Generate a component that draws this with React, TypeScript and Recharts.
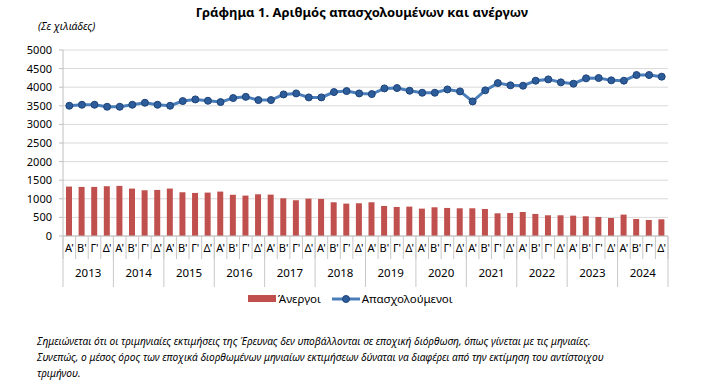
import { ComposedChart, Bar, Line, XAxis, YAxis, CartesianGrid } from 'recharts'

const years = ['2013', '2014', '2015', '2016', '2017', '2018', '2019', '2020', '2021', '2022', '2023', '2024']
const quarters = ["Α'", "Β'", "Γ'", "Δ'"]

// Άνεργοι, thousands, per quarter
const unemployed = [
  1329, 1320, 1320, 1338,
  1347, 1275, 1230, 1239,
  1275, 1176, 1158, 1167,
  1194, 1108, 1086, 1122,
  1113, 1014, 961, 1005,
  996, 907, 871, 880,
  907, 808, 781, 790,
  736, 772, 754, 745,
  745, 727, 610, 619,
  646, 593, 557, 557,
  548, 530, 512, 485,
  575, 458, 431, 449,
]

// Απασχολούμενοι, thousands, per quarter
const employed = [
  3501, 3528, 3528, 3474,
  3474, 3528, 3582, 3528,
  3501, 3627, 3672, 3636,
  3600, 3708, 3740, 3654,
  3654, 3806, 3833, 3726,
  3726, 3869, 3896, 3833,
  3815, 3968, 3977, 3905,
  3851, 3851, 3940, 3887,
  3618, 3915, 4110, 4050,
  4040, 4175, 4210, 4130,
  4094, 4238, 4247, 4184,
  4175, 4327, 4327, 4283,
]

const yTicks = [0, 500, 1000, 1500, 2000, 2500, 3000, 3500, 4000, 4500, 5000]

const data = unemployed.map((u, i) => ({
  key: i,
  q: quarters[i % 4],
  year: years[Math.floor(i / 4)],
  unemployed: u,
  employed: employed[i],
}))

const FONT = '"Noto Sans", "Open Sans", sans-serif'
const SEP = '#c8c8c8'

// eslint-disable-next-line @typescript-eslint/no-explicit-any
function QuarterTick({ x, y, payload }: any) {
  const half = payload.offset ?? 6.3
  return (
    <g>
      <line x1={x - half} x2={x - half} y1={y} y2={y + 23} stroke={SEP} />
      {payload.index === data.length - 1 && (
        <line x1={x + half} x2={x + half} y1={y} y2={y + 23} stroke={SEP} />
      )}
      <text x={x} y={y + 16} textAnchor="middle" fontSize={11} fontFamily={FONT} fill="#000">
        {data[payload.index]?.q}
      </text>
    </g>
  )
}

// eslint-disable-next-line @typescript-eslint/no-explicit-any
function YearTick({ x, y, payload }: any) {
  const half = payload.offset ?? 25
  return (
    <g>
      <line x1={x - half} x2={x - half} y1={y - 26} y2={y + 25} stroke={SEP} />
      {payload.index === years.length - 1 && (
        <line x1={x + half} x2={x + half} y1={y - 26} y2={y + 25} stroke={SEP} />
      )}
      <text x={x} y={y + 15} textAnchor="middle" fontSize={11.5} fontFamily={FONT} fill="#000">
        {payload.value}
      </text>
    </g>
  )
}

export default function App() {
  return (
    <div style={{ position: 'absolute', left: 0, top: 0, width: 713, height: 387, background: '#fff', fontFamily: FONT }}>
      <div style={{ position: 'absolute', top: 3, left: 0, width: 724, textAlign: 'center', fontSize: 13, fontWeight: 700, color: '#000' }}>
        Γράφημα 1. Αριθμός απασχολουμένων και ανέργων
      </div>
      <div style={{ position: 'absolute', top: 19, left: 38, fontSize: 10.5, fontStyle: 'italic', color: '#000' }}>
        (Σε χιλιάδες)
      </div>

      <ComposedChart
        width={713}
        height={387}
        data={data}
        margin={{ top: 50, right: 45, bottom: 95, left: 13 }}
        barCategoryGap="50%"
      >
        <CartesianGrid vertical={false} stroke="#d9d9d9" />
        <XAxis
          dataKey="key"
          axisLine={{ stroke: '#bfbfbf' }}
          tickLine={false}
          tickSize={0}
          tickMargin={0}
          height={26}
          interval={0}
          tick={<QuarterTick />}
        />
        <XAxis
          xAxisId="year"
          dataKey="year"
          allowDuplicatedCategory={false}
          axisLine={false}
          tickLine={false}
          tickSize={0}
          tickMargin={0}
          height={30}
          interval={0}
          tick={<YearTick />}
        />
        <YAxis
          width={50}
          domain={[0, 5000]}
          ticks={yTicks}
          interval={0}
          axisLine={{ stroke: '#bfbfbf' }}
          tickLine={{ stroke: '#bfbfbf' }}
          tickSize={4}
          tickMargin={7}
          tick={{ fontSize: 11, fill: '#000', fontFamily: FONT }}
        />
        <Bar dataKey="unemployed" name="Άνεργοι" fill="#C0504D" barSize={6} isAnimationActive={false} />
        <Line
          dataKey="employed"
          name="Απασχολούμενοι"
          type="linear"
          stroke="#4A7EBB"
          strokeWidth={3}
          dot={{ r: 3.5, fill: '#2C5C9A', stroke: '#1F4478', strokeWidth: 1 }}
          isAnimationActive={false}
        />
      </ComposedChart>

      {/* legend */}
      <div style={{ position: 'absolute', top: 291, left: 248, display: 'flex', alignItems: 'center', fontSize: 11.5, color: '#000' }}>
        <span style={{ display: 'inline-block', width: 28, height: 7, background: '#C0504D', marginRight: 2 }} />
        <span>Άνεργοι</span>
        <svg width={28} height={10} style={{ marginLeft: 11, marginRight: 2 }}>
          <line x1={0} x2={28} y1={5} y2={5} stroke="#4A7EBB" strokeWidth={3} />
          <circle cx={14} cy={5} r={3.5} fill="#2C5C9A" stroke="#1F4478" strokeWidth={1} />
        </svg>
        <span>Απασχολούμενοι</span>
      </div>

      {/* footnote */}
      <div style={{ position: 'absolute', top: 333, left: 37, fontSize: 10.2, lineHeight: '16px', fontStyle: 'italic', color: '#000', whiteSpace: 'nowrap' }}>
        Σημειώνεται ότι οι τριμηνιαίες εκτιμήσεις της Έρευνας δεν υποβάλλονται σε εποχική διόρθωση, όπως γίνεται με τις μηνιαίες.
        <br />
        Συνεπώς, ο μέσος όρος των εποχικά διορθωμένων μηνιαίων εκτιμήσεων δύναται να διαφέρει από την εκτίμηση του αντίστοιχου
        <br />
        τριμήνου.
      </div>
    </div>
  )
}
